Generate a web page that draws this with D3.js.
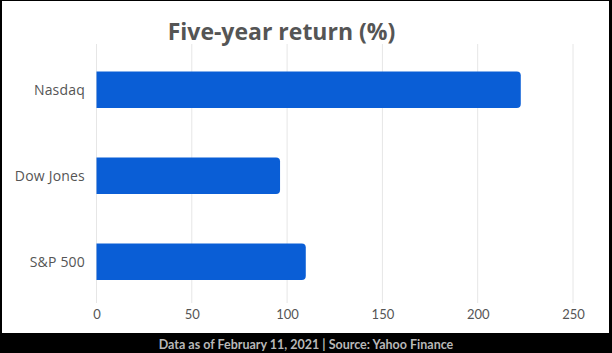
<!DOCTYPE html>
<html>
<head>
<meta charset="utf-8">
<script src="https://cdn.jsdelivr.net/npm/d3@7"></script>
<style>
  body { margin: 0; background: #000; }
  svg { display: block; }
</style>
</head>
<body>
<svg id="chart" width="612" height="353"></svg>
<script>
var categories = ["Nasdaq", "Dow Jones", "S&P 500"];
var returns = [222.6, 96.3, 109.8];
var tickValues = [0, 50, 100, 150, 200, 250];
var title = "Five-year return (%)";
var footer = "Data as of February 11, 2021 | Source: Yahoo Finance";

var width = 612, height = 353;
var svg = d3.select("#chart");

// black frame, white panel
svg.append("rect").attr("width", width).attr("height", height).attr("fill", "#000");
svg.append("rect")
    .attr("x", 2).attr("y", 1)
    .attr("width", 607).attr("height", 332)
    .attr("fill", "#fff");

var x = d3.scaleLinear().domain([0, 250]).range([96.5, 573]);
var y = d3.scaleBand().domain(categories).range([45.7, 305.9])
    .paddingInner(0.575).paddingOuter(0.3);

// grid
svg.append("g").selectAll("line")
    .data(tickValues)
    .enter().append("line")
    .attr("x1", function(d) { return x(d); })
    .attr("x2", function(d) { return x(d); })
    .attr("y1", 44).attr("y2", 303)
    .attr("stroke", "#e6e6e6")
    .attr("stroke-width", 1);

// bars, rounded on the right end only
function barPath(x0, x1, y0, h, r) {
    return "M" + x0 + "," + y0 +
        "H" + (x1 - r) +
        "Q" + x1 + "," + y0 + " " + x1 + "," + (y0 + r) +
        "V" + (y0 + h - r) +
        "Q" + x1 + "," + (y0 + h) + " " + (x1 - r) + "," + (y0 + h) +
        "H" + x0 + "Z";
}

svg.append("g").selectAll("path")
    .data(categories)
    .enter().append("path")
    .attr("d", function(d, i) {
        return barPath(x(0), x(returns[i]), y(d), y.bandwidth(), 4);
    })
    .attr("fill", "#0a5ed6");

// category labels
svg.append("g").selectAll("text")
    .data(categories)
    .enter().append("text")
    .attr("x", 85)
    .attr("y", function(d) { return y(d) + y.bandwidth() / 2; })
    .attr("dy", "0.35em")
    .attr("text-anchor", "end")
    .attr("font-family", "'Open Sans', sans-serif")
    .attr("font-size", "14px")
    .attr("letter-spacing", "0.2px")
    .attr("fill", "#555")
    .text(function(d) { return d; });

// x axis labels
var xAxis = svg.append("g")
    .attr("transform", "translate(0,310)")
    .call(d3.axisBottom(x).tickValues(tickValues).tickSize(0).tickPadding(0));
xAxis.select(".domain").remove();
xAxis.selectAll("text")
    .attr("dy", "0.71em")
    .attr("font-family", "Lato, sans-serif")
    .attr("font-size", "13px")
    .attr("fill", "#555");

// title
svg.append("text")
    .attr("x", 281.5).attr("y", 40)
    .attr("text-anchor", "middle")
    .attr("font-family", "'Open Sans', sans-serif")
    .attr("font-weight", "bold")
    .attr("font-size", "23px")
    .attr("fill", "#555")
    .text(title);

// footer
svg.append("text")
    .attr("x", 306).attr("y", 349)
    .attr("text-anchor", "middle")
    .attr("font-family", "Lato, sans-serif")
    .attr("font-weight", "bold")
    .attr("font-size", "12.5px")
    .attr("fill", "#b8b8b8")
    .text(footer);
</script>
</body>
</html>
